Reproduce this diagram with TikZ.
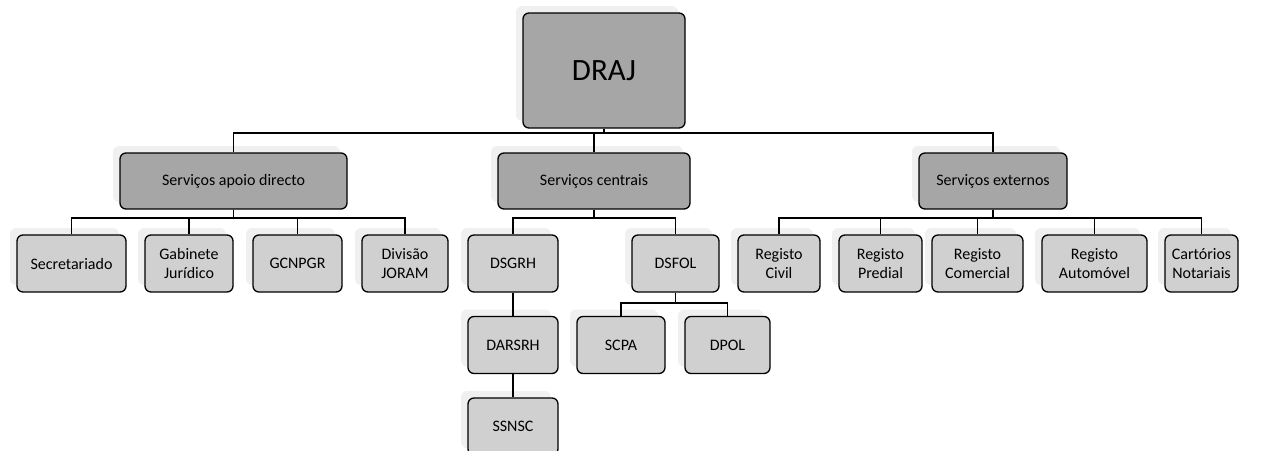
\documentclass[tikz,border=0pt]{standalone}
\usepackage{fontspec}
\setmainfont{Carlito}
\usetikzlibrary{shadows}

\definecolor{headgray}{HTML}{A6A6A6}
\definecolor{unitgray}{HTML}{D0D0D0}
\definecolor{glowgray}{HTML}{F0F0F0}

\tikzset{
  box/.style={draw=black, line width=1.3pt, rounded corners=6pt, align=center,
    inner sep=2pt, text=black,
    general shadow={fill=glowgray, shadow xshift=-7pt, shadow yshift=7pt}},
  headbox/.style={box, fill=headgray, minimum width=162pt, minimum height=115pt,
    font=\fontsize{31}{36}\selectfont},
  groupbox/.style={box, fill=headgray, minimum height=56pt,
    font=\fontsize{16}{19}\selectfont},
  unitbox/.style={box, fill=unitgray, minimum height=57pt,
    font=\fontsize{16}{19}\selectfont},
  link/.style={draw=black, line width=1.4pt}
}

\begin{document}
\begin{tikzpicture}[x=1pt,y=-1pt]
  \useasboundingbox (0,0) rectangle (1277,450);
  \clip (0,0) rectangle (1277,450);

  % top
  \node[headbox] (draj) at (604,70.5) {DRAJ};

  % services
  \node[groupbox, minimum width=227pt] (apoio)    at (233.5,181) {Serviços apoio directo};
  \node[groupbox, minimum width=192pt] (centrais) at (594,181)   {Serviços centrais};
  \node[groupbox, minimum width=148pt] (externos) at (993,181)   {Serviços externos};

  % apoio directo
  \node[unitbox, minimum width=109pt] (secr)   at (71.5,263.5)  {Secretariado};
  \node[unitbox, minimum width=88pt]  (gab)    at (189,263.5)   {Gabinete\\Jurídico};
  \node[unitbox, minimum width=89pt]  (gcnpgr) at (297.5,263.5) {GCNPGR};
  \node[unitbox, minimum width=86pt]  (joram)  at (405,263.5)   {Divisão\\JORAM};

  % centrais
  \node[unitbox, minimum width=90pt] (dsgrh)  at (513,263.5)   {DSGRH};
  \node[unitbox, minimum width=87pt] (dsfol)  at (675.5,263.5) {DSFOL};
  \node[unitbox, minimum width=90pt] (darsrh) at (513,345)     {DARSRH};
  \node[unitbox, minimum width=90pt] (ssnsc)  at (513,426.5)   {SSNSC};
  \node[unitbox, minimum width=88pt] (scpa)   at (621,345)     {SCPA};
  \node[unitbox, minimum width=85pt] (dpol)   at (727.5,345)   {DPOL};

  % externos
  \node[unitbox, minimum width=82pt]  (civil)     at (779,263.5)    {Registo\\Civil};
  \node[unitbox, minimum width=83pt]  (predial)   at (880.5,263.5)  {Registo\\Predial};
  \node[unitbox, minimum width=91pt]  (comercial) at (977.5,263.5)  {Registo\\Comercial};
  \node[unitbox, minimum width=105pt] (auto)      at (1094.5,263.5) {Registo\\Automóvel};
  \node[unitbox, minimum width=73pt]  (notarios)  at (1201.5,263.5) {Cartórios\\Notariais};

  % connectors
  \foreach \n in {apoio,centrais,externos}
    \draw[link] (draj.south) -- (draj.south |- 0,133) -| (\n.north);
  \foreach \n in {secr,gab,gcnpgr,joram}
    \draw[link] (apoio.south) -- (apoio.south |- 0,218) -| (\n.north);
  \foreach \n in {dsgrh,dsfol}
    \draw[link] (centrais.south) -- (centrais.south |- 0,218) -| (\n.north);
  \foreach \n in {civil,predial,comercial,auto,notarios}
    \draw[link] (externos.south) -- (externos.south |- 0,218) -| (\n.north);
  \draw[link] (dsgrh) -- (darsrh);
  \draw[link] (darsrh) -- (ssnsc);
  \foreach \n in {scpa,dpol}
    \draw[link] (dsfol.south) -- (dsfol.south |- 0,303) -| (\n.north);
\end{tikzpicture}
\end{document}
